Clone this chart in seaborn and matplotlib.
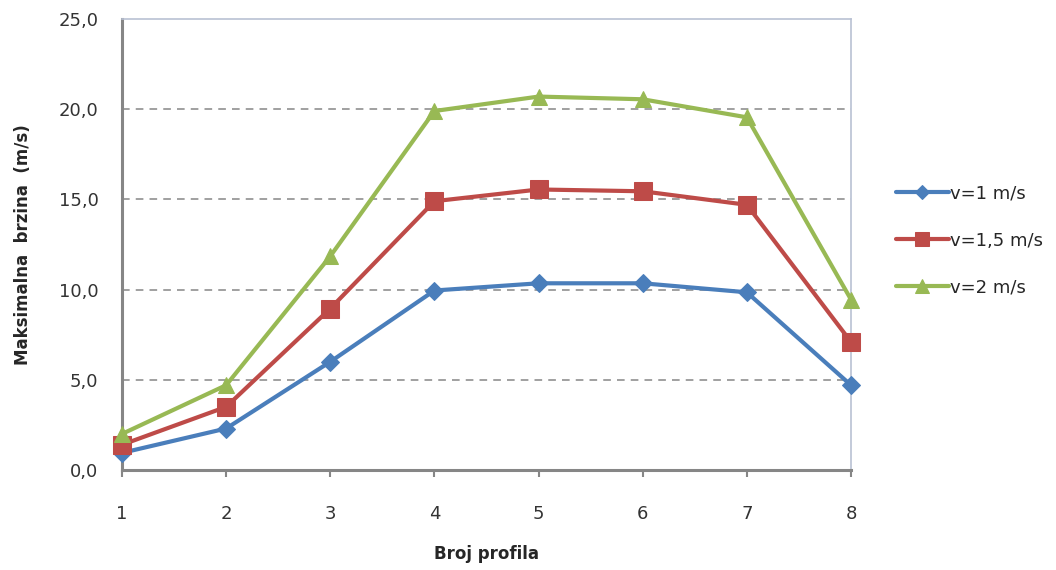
import numpy as np
import pandas as pd
import seaborn as sns
import matplotlib.pyplot as plt
from matplotlib.ticker import FuncFormatter

# data
profili = [1, 2, 3, 4, 5, 6, 7, 8]
v1 = [0.95, 2.3, 6.0, 9.95, 10.35, 10.35, 9.85, 4.7]
v15 = [1.4, 3.5, 8.95, 14.9, 15.55, 15.45, 14.7, 7.1]
v2 = [2.0, 4.7, 11.85, 19.9, 20.7, 20.55, 19.55, 9.45]
labels = ["v=1 m/s", "v=1,5 m/s", "v=2 m/s"]

sns.set_style("white")
plt.rcParams['font.family'] = ['DejaVu Sans']

fig = plt.figure(figsize=(10.56, 5.70), dpi=100)
ax = fig.add_axes([122/1056, 100/570, 729/1056, 451/570])

series = [v1, v15, v2]
colors = ['#4a7ebb', '#be4b48', '#98b954']
markers = ['D', 's', '^']
msizes = [9, 13, 12]

for vals, lab, col, mk, ms in zip(series, labels, colors, markers, msizes):
    df = pd.DataFrame({'x': profili, 'y': vals})
    sns.lineplot(data=df, x='x', y='y', ax=ax, color=col, marker=mk,
                 markersize=ms, markeredgecolor=col, linewidth=3,
                 label=lab, clip_on=False, zorder=3)

ax.set_xlim(1, 8)
ax.set_ylim(0, 25)
ax.set_xticks(profili)
ax.set_yticks([0, 5, 10, 15, 20, 25])
ax.yaxis.set_major_formatter(FuncFormatter(lambda v, p: "{:.1f}".format(v).replace('.', ',')))

# dashed gridlines
for yv in [5, 10, 15, 20]:
    ax.axhline(yv, color='#868686', linestyle=(0, (5, 4)), linewidth=1.1, zorder=1)

for s in ['left', 'bottom']:
    ax.spines[s].set_color('#868686')
    ax.spines[s].set_linewidth(2.2)
for s in ['top', 'right']:
    ax.spines[s].set_color('#b9c1d3')
    ax.spines[s].set_linewidth(1.2)

ax.tick_params(axis='x', direction='out', length=5, width=1.5, color='#868686',
               labelsize=13, pad=20, bottom=True, labelcolor='#333333')
ax.tick_params(axis='y', direction='out', length=0, labelsize=13, pad=17,
               labelcolor='#333333')

ax.set_xlabel("Broj profila", fontsize=12, fontweight='bold', labelpad=16)
ax.set_ylabel("Maksimalna  brzina  (m/s)", fontsize=12, fontweight='bold', labelpad=19)

ax.legend_.remove()
handles, labs = ax.get_legend_handles_labels()
fig.legend(handles, labs, loc='upper left', bbox_to_anchor=(880/1056, 1 - 168/570),
           frameon=False, fontsize=13, handlelength=2.9, handletextpad=0.05,
           labelspacing=1.62, markerscale=0.8)

fig.savefig("out.png", dpi=100, facecolor='white')
